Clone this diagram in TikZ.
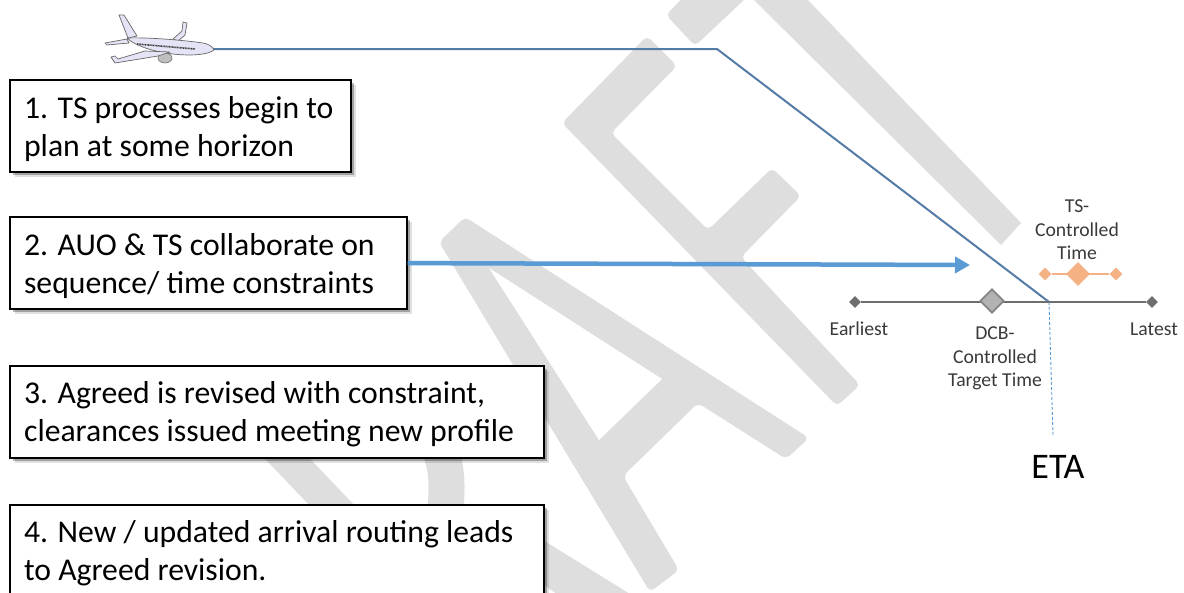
\documentclass[tikz,border=0pt]{standalone}
\usepackage{fontspec}
\setmainfont{Carlito}
\usetikzlibrary{shapes.geometric,arrows.meta,shadows}
\definecolor{wm}{HTML}{DEDEDE}
\definecolor{route}{HTML}{557CA6}
\definecolor{bluearrow}{HTML}{5B9BD5}
\definecolor{tlgray}{HTML}{6E6E6E}
\definecolor{orangeish}{HTML}{F4B183}
\definecolor{labelc}{HTML}{3A3A3A}
\definecolor{planefill}{HTML}{E4E4F6}
\newcommand{\firstline}[2]{\makebox[#1][l]{\rule{0pt}{27pt}#2}}
\tikzset{
  wmark/.style={fill=wm,draw=none,rounded corners=5pt},
  infobox/.style={draw=black,line width=2.2pt,fill=white,anchor=north west,align=left,
    inner xsep=14pt,inner ysep=0pt,text=black,font=\fontsize{31.7}{38}\selectfont,
    drop shadow={shadow xshift=5pt,shadow yshift=-5pt,fill=black,opacity=.12},
    drop shadow={shadow xshift=3pt,shadow yshift=-3pt,fill=black,opacity=.28}},
  smallgray/.style={diamond,draw=none,fill=tlgray,minimum width=12pt,minimum height=12pt,inner sep=0pt},
  biggray/.style={diamond,draw=tlgray!85,line width=1.8pt,fill=gray!60,minimum width=24pt,minimum height=24pt,inner sep=0pt},
  smallorange/.style={diamond,draw=none,fill=orangeish,minimum width=13pt,minimum height=13pt,inner sep=0pt},
  bigorange/.style={diamond,draw=none,fill=orangeish,minimum width=24pt,minimum height=24pt,inner sep=0pt},
  lab/.style={align=center,text=labelc,inner sep=0pt,font=\fontsize{19.7}{23.5}\selectfont},
  planepart/.style={fill=planefill,draw=black!60,line width=.7pt,line join=round},
}
\begin{document}
\begin{tikzpicture}[x=1pt,y=-1pt]
\useasboundingbox (0,0) rectangle (1184,592);
\clip (0,0) rectangle (1184,592);
\fill[white] (0,0) rectangle (1184,592);
% watermark
\fill[wmark]
  (465,217) -- (809,438) -- (786,459) -- (698,403) -- (623,476) -- (679,570) -- (650,592) -- (439,242) -- cycle;
\fill[white] (489,268) -- (662,379) -- (599,440) -- cycle;
\fill[wmark] (647,36) -- (677,66) -- (611,133) -- (708,230) -- (772,168) -- (801,196) -- (741,257)
  -- (860,385) -- (837,406) -- (562,123) -- cycle;
\fill[wmark] (700,-20) -- (666,15) -- (695,46) -- (744,0) -- (760,-20) -- cycle;
\fill[wm] (735,-20) -- (808,-20) -- (808,0) -- (1021,223) -- (1001,245) -- (754,0) -- cycle;
\fill[wm] (247,440) -- (292,440) -- (380,532) -- (335,532) -- cycle;
\draw[wm,line width=36pt] (436,440) .. controls (450,470) and (447,490) .. (444,530);
\fill[wm] (530,532) -- (630,594) -- (557,594) -- (530,575) -- cycle;
% route
\coordinate (nose) at (213,49);
\coordinate (bend) at (717,49);
\coordinate (etap) at (1049,302);
\coordinate (etaend) at (1053,435);
\draw[route,line width=2pt,line join=round] (nose) -- (bend) -- (etap);
\draw[bluearrow,line width=.9pt,dash pattern=on 3pt off 2pt] (etap) -- (etaend);
% plane
\fill[planepart] (119,15) -- (124,15) -- (137,36) -- (128,38) -- cycle;
\fill[planepart] (105,43) -- (127,39) -- (129,43) -- (107,45) -- cycle;
\fill[planepart] (183,22) -- (187,23) -- (185,35) -- (178,41) -- (173,39) -- (182,31) -- cycle;
\fill[planepart] (127,38) .. controls (150,37) and (190,41) .. (203,43) .. controls (209,44) and (213,47) .. (214,50)
  .. controls (208,55) and (190,56) .. (173,54) .. controls (155,52) and (135,46) .. cycle;
\fill[fill=black!25,draw=black!60,line width=.5pt] (165,58) ellipse [x radius=7,y radius=5];
\fill[planepart] (111,57) -- (115,56) -- (118,59) -- (145,51) -- (170,52) -- (158,56) -- (115,63) -- cycle;
\draw[black!75,line width=1.6pt,dash pattern=on 1pt off .6pt] (137,44) -- (195,49);
% timeline
\node[smallgray] (early) at (855,302) {};
\node[smallgray] (late) at (1152,302) {};
\draw[tlgray,line width=1.4pt] (early) -- (late);
\node[biggray] (dcb) at (992,301) {};
\node[smallorange] (to1) at (1045,274) {};
\node[smallorange] (to2) at (1116,274) {};
\draw[orangeish,line width=1.4pt] (to1) -- (to2);
\node[bigorange] (tsd) at (1078,274) {};
% labels
\node[lab] (earliest) at (859,329) {Earliest};
\node[lab] (latest) at (1154,329) {Latest};
\node[lab] (dcbl) at (995,358.5) {DCB-\\Controlled\\Target Time};
\node[lab] (tsl) at (1077,230) {TS-\\Controlled\\Time};
\node[text=black,inner sep=0pt,font=\fontsize{36}{40}\selectfont] (eta) at (1058,467) {ETA};
% boxes
\node[infobox,minimum height=92pt] (b1) at (9,79) {\firstline{312.5pt}{1. TS processes begin to}\\plan at some horizon};
\node[infobox,minimum height=92pt] (b2) at (9,216) {\firstline{368.5pt}{2. AUO \& TS collaborate on}\\sequence/ time constraints};
\node[infobox,minimum height=92pt] (b3) at (9,365) {\firstline{506pt}{3. Agreed is revised with constraint,}\\clearances issued meeting new profile};
\node[infobox,minimum height=92pt] (b4) at (9,504) {\firstline{506pt}{4. New / updated arrival routing leads}\\to Agreed revision.};
\coordinate (arrowend) at (970,265);
\draw[bluearrow,line width=4.5pt,-{Triangle[length=15pt,width=16pt]}] (b2.east) -- (arrowend);
\end{tikzpicture}
\end{document}
